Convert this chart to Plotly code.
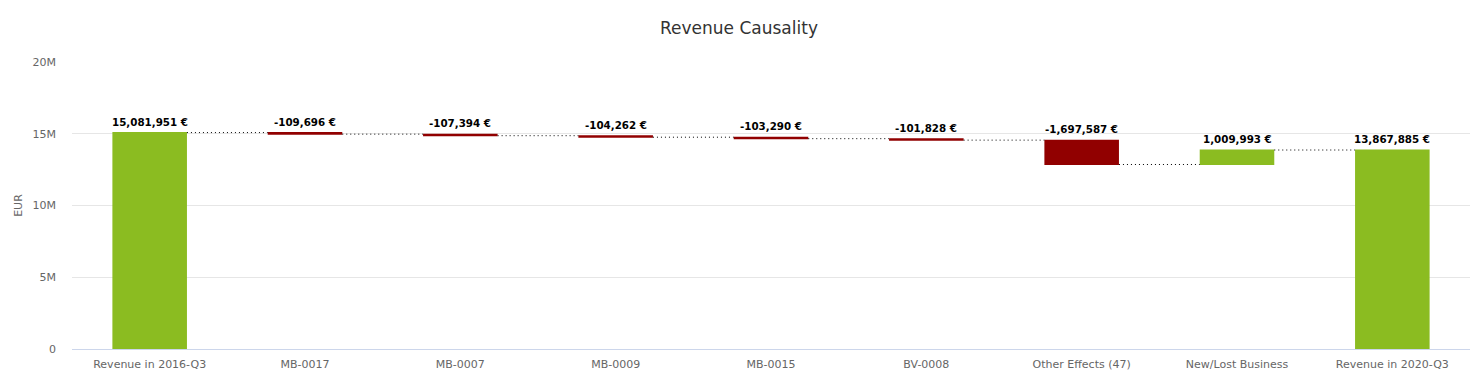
import plotly.graph_objects as go

categories = ["Revenue in 2016-Q3", "MB-0017", "MB-0007", "MB-0009", "MB-0015",
              "BV-0008", "Other Effects (47)", "New/Lost Business", "Revenue in 2020-Q3"]
values = [15081951, -109696, -107394, -104262, -103290, -101828, -1697587, 1009993, 13867885]
measures = ["absolute", "relative", "relative", "relative", "relative",
            "relative", "relative", "relative", "absolute"]

labels = [("-" if v < 0 else "") + f"{abs(v):,} €" for v in values]

# compute bar tops for label placement
tops = []
level = 0
for v, m in zip(values, measures):
    if m == "absolute":
        start, end = 0, v
        level = v
    else:
        start, end = level, level + v
        level = end
    tops.append(max(start, end))

GREEN = "#8BBC21"
RED = "#910000"

fig = go.Figure()
fig.add_trace(go.Waterfall(
    x=categories, y=values, measure=measures,
    width=0.48,
    increasing=dict(marker=dict(color=GREEN)),
    decreasing=dict(marker=dict(color=RED)),
    totals=dict(marker=dict(color=GREEN)),
    connector=dict(line=dict(color="#000000", width=1, dash="1px,3px")),
    hoverinfo="x+y",
    showlegend=False,
))

for c, t, lab in zip(categories, tops, labels):
    fig.add_annotation(x=c, y=t, text=lab, showarrow=False, yanchor="bottom",
                       yshift=3,
                       font=dict(family="DejaVu Sans", size=10.3, color="#000000", weight="bold"))

fig.update_layout(
    width=1473, height=371,
    margin=dict(l=64, r=11, t=54, b=30),
    paper_bgcolor="white", plot_bgcolor="white",
    title=dict(text="Revenue Causality", x=731 / 1473, xanchor="center", y=1 - 20 / 371, yanchor="middle",
               font=dict(family="DejaVu Sans", size=17, color="#333333")),
    font=dict(family="DejaVu Sans", size=11, color="#666666"),
)
fig.update_xaxes(showline=True, linecolor="#ccd6eb", linewidth=1, showgrid=False,
                 ticks="", tickfont=dict(size=11, color="#666666"), ticklabelstandoff=5,
                 automargin=False)
fig.update_yaxes(range=[0, 20e6], dtick=5e6, tickformat="~s", showgrid=True,
                 gridcolor="#e6e6e6", zeroline=False, showline=False,
                 title=dict(text="EUR", font=dict(size=11, color="#666666"), standoff=7),
                 tickfont=dict(size=11, color="#666666"), ticklabelstandoff=15)
fig.write_html("out.html")
